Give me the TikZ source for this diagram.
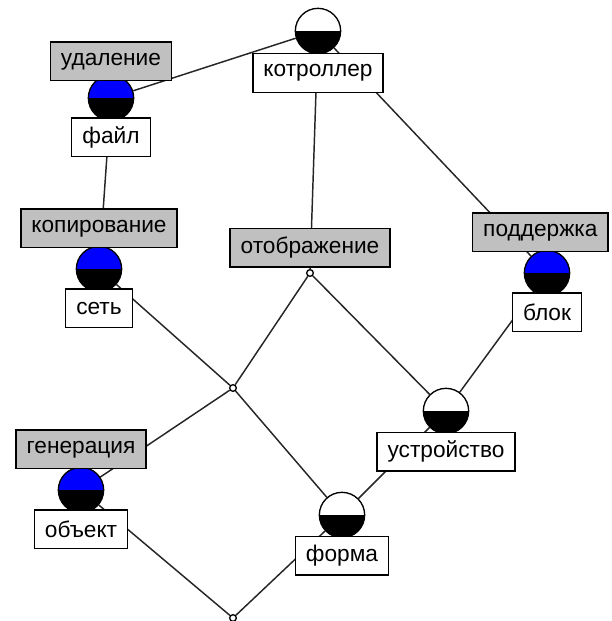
\documentclass[tikz,border=0pt]{standalone}
\usepackage{fontspec}
\setmainfont{Liberation Sans}
\usetikzlibrary{positioning, backgrounds}
\definecolor{attrGray}{RGB}{192,192,192}
\definecolor{conceptBlue}{RGB}{0,0,255}
\tikzset{
    concept/.style={
        circle,
        draw=black,
        line width=1pt,
        minimum size=34pt,
        inner sep=0pt,
        path picture={
            \fill[#1] (path picture bounding box.north west) rectangle (path picture bounding box.east);
            \fill[black] (path picture bounding box.west) rectangle (path picture bounding box.south east);
        }
    },
    joint/.style={circle, draw=black, fill=white, line width=1pt, minimum size=5pt, inner sep=0pt},
    attrbox/.style={
        rectangle,
        draw=black,
        line width=1.1pt,
        fill=attrGray,
        minimum height=29pt,
        inner xsep=8pt,
        font=\fontsize{17}{20}\selectfont
    },
    objbox/.style={attrbox, fill=white},
    latticeline/.style={line width=1.1pt, draw=black!85}
}

\begin{document}
\begin{tikzpicture}[x=0.75pt, y=-0.75pt]
    \useasboundingbox (0,0) rectangle (611,621);
    % concepts
    \node[concept=white] (ctrl) at (318,31) {};
    \node[concept=conceptBlue] (fileC) at (111,98) {};
    \node[concept=conceptBlue] (setC) at (99,269) {};
    \node[joint] (dispN) at (310,273) {};
    \node[concept=conceptBlue] (blockC) at (547,273) {};
    \node[joint] (meetN) at (233,388) {};
    \node[concept=white] (devC) at (446,411) {};
    \node[concept=conceptBlue] (objC) at (81,490) {};
    \node[concept=white] (formC) at (342,515) {};
    \node[joint] (botN) at (233,618) {};
    % labels
    \node[objbox, below=-1pt of ctrl] (ctrlL) {котроллер};
    \node[attrbox, above=-5pt of fileC] (delL) {удаление};
    \node[objbox, below=-3pt of fileC] (fileL) {файл};
    \node[attrbox, above=-2pt of setC] (copyL) {копирование};
    \node[objbox, below=-3pt of setC] (setL) {сеть};
    \node[attrbox, above=1pt of dispN] (dispL) {отображение};
    \node[attrbox, above=-2pt of blockC, xshift=-5pt] (suppL) {поддержка};
    \node[objbox, below=-3pt of blockC] (blockL) {блок};
    \node[objbox, below=-2pt of devC] (devL) {устройство};
    \node[attrbox, above=-2pt of objC] (genL) {генерация};
    \node[objbox, below=-3pt of objC] (objL) {объект};
    \node[objbox, below=-2pt of formC] (formL) {форма};
    % lattice lines
    \begin{scope}[on background layer]
        \draw[latticeline] (ctrl) -- (fileC);
        \draw[latticeline] (ctrl) -- (dispN);
        \draw[latticeline] (ctrl) -- (blockC);
        \draw[latticeline] (fileC) -- (setC);
        \draw[latticeline] (setC) -- (meetN);
        \draw[latticeline] (dispN) -- (meetN);
        \draw[latticeline] (dispN) -- (devC);
        \draw[latticeline] (blockC) -- (devC);
        \draw[latticeline] (meetN) -- (objC);
        \draw[latticeline] (meetN) -- (formC);
        \draw[latticeline] (devC) -- (formC);
        \draw[latticeline] (objC) -- (botN);
        \draw[latticeline] (formC) -- (botN);
    \end{scope}
\end{tikzpicture}
\end{document}
